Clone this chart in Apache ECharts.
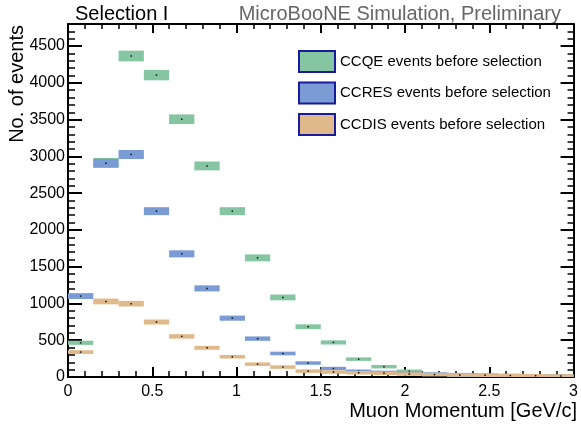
<!DOCTYPE html>
<html><head><meta charset="utf-8">
<script src="https://cdn.jsdelivr.net/npm/echarts@6/dist/echarts.min.js"></script>
<style>html,body{margin:0;padding:0;background:#fff}#c{width:581px;height:429px}</style>
</head><body><div id="c"></div>
<script>
// Bin edges of muon momentum [GeV/c]
const binEdges = [0, 0.15, 0.3, 0.45, 0.6, 0.75, 0.9, 1.05, 1.2, 1.35, 1.5, 1.65, 1.8, 1.95, 2.1, 2.25, 2.4, 2.55, 2.7, 2.85, 3.0];
// Event counts per bin
const ccqe  = [465, 2918, 4365, 4105, 3505, 2870, 2255, 1620, 1082, 683, 470, 243, 140, 78, 35, 22, 15, 10, 8, 6];
const ccres = [1100, 2905, 3025, 2255, 1675, 1205, 800, 522, 320, 190, 115, 78, 62, 50, 40, 32, 26, 20, 16, 14];
const ccdis = [339, 1027, 997, 748, 552, 397, 275, 175, 135, 80, 68, 58, 50, 40, 33, 28, 24, 20, 17, 14];
const seriesNames = ['CCQE events before selection', 'CCRES events before selection', 'CCDIS events before selection'];
const xTicks = [0, 0.5, 1, 1.5, 2, 2.5, 3];

const FONT = 'Liberation Sans, Arial, Helvetica, sans-serif';
const colors = ['#86c5a2', '#7a9bd3', '#e0b98a'];

const chart = echarts.init(document.getElementById('c'), null, {renderer: 'canvas'});

function boxSeries(name, vals, color) {
  return {
    name: name,
    type: 'custom',
    xAxisIndex: 0, yAxisIndex: 0,
    itemStyle: {color: color},
    data: vals.map((v, i) => [binEdges[i], binEdges[i + 1], v]),
    encode: {x: [0, 1], y: 2},
    renderItem: function (params, api) {
      const lo = api.value(0), hi = api.value(1), v = api.value(2);
      const e = Math.sqrt(v);
      const p1 = api.coord([lo, v + e]);
      const p2 = api.coord([hi, v - e]);
      const c = api.coord([(lo + hi) / 2, v]);
      const h = Math.max(p2[1] - p1[1] + 1, 3.5);
      return {
        type: 'group',
        children: [
          {type: 'rect', shape: {x: p1[0], y: c[1] - h / 2, width: p2[0] - p1[0], height: h}, style: {fill: color}},
          {type: 'rect', shape: {x: c[0] - 0.75, y: c[1] - 0.75, width: 1.5, height: 1.5}, style: {fill: '#111'}}
        ]
      };
    },
    clip: true
  };
}

const axisCommon = {
  axisLine: {show: true, onZero: false, lineStyle: {color: '#000', width: 2}},
  splitLine: {show: false}
};

chart.setOption({
  animation: false,
  grid: {left: 68, right: 3, top: 24, bottom: 52},
  legend: {
    orient: 'vertical', left: 293, top: 45,
    itemWidth: 36, itemHeight: 21, itemGap: 8.5,
    icon: 'rect',
    itemStyle: {borderColor: '#1a1a9c', borderWidth: 2},
    textStyle: {fontSize: 15, color: '#000', fontFamily: FONT},
    data: seriesNames
  },
  xAxis: [
    Object.assign({}, axisCommon, {
      type: 'value', min: xTicks[0], max: xTicks[xTicks.length - 1], interval: 0.5, position: 'bottom',
      axisTick: {show: true, inside: true, length: 10, lineStyle: {color: '#000', width: 2}},
      minorTick: {show: true, splitNumber: 5, length: 6, lineStyle: {color: '#000', width: 1.5}},
      axisLabel: {fontSize: 16, color: '#000', margin: 7, fontFamily: FONT, formatter: v => String(v)}
    }),
    Object.assign({}, axisCommon, {
      type: 'value', min: xTicks[0], max: xTicks[xTicks.length - 1], interval: 0.5, position: 'top',
      axisTick: {show: true, inside: true, length: 9, lineStyle: {color: '#000', width: 2}},
      minorTick: {show: true, splitNumber: 5, length: 5, lineStyle: {color: '#000', width: 1.5}},
      axisLabel: {show: false}
    })
  ],
  yAxis: [
    Object.assign({}, axisCommon, {
      type: 'value', min: 0, max: 4800, interval: 500, position: 'left',
      axisTick: {show: true, inside: true, length: 14, lineStyle: {color: '#000', width: 2}},
      minorTick: {show: true, splitNumber: 5, length: 7, lineStyle: {color: '#000', width: 1.5}},
      axisLabel: {fontSize: 16, color: '#000', margin: 3, fontFamily: FONT, showMaxLabel: false, formatter: v => String(v)}
    }),
    Object.assign({}, axisCommon, {
      type: 'value', min: 0, max: 4800, interval: 500, position: 'right',
      axisTick: {show: true, inside: true, length: 13, lineStyle: {color: '#000', width: 2}},
      minorTick: {show: true, splitNumber: 5, length: 6, lineStyle: {color: '#000', width: 1.5}},
      axisLabel: {show: false}
    })
  ],
  series: [
    boxSeries(seriesNames[0], ccqe, colors[0]),
    boxSeries(seriesNames[1], ccres, colors[1]),
    boxSeries(seriesNames[2], ccdis, colors[2])
  ],
  graphic: [
    {type: 'text', x: 75, y: 14, style: {text: 'Selection I', font: '20px ' + FONT, fill: '#000', align: 'left', verticalAlign: 'middle'}},
    {type: 'text', x: 561, y: 14, style: {text: 'MicroBooNE Simulation, Preliminary', font: '20px ' + FONT, fill: '#666', align: 'right', verticalAlign: 'middle'}},
    {type: 'text', x: 577, y: 411, style: {text: 'Muon Momentum [GeV/c]', font: '20px ' + FONT, fill: '#000', align: 'right', verticalAlign: 'middle'}},
    {type: 'text', x: 17, y: 25, rotation: Math.PI / 2, style: {text: 'No. of events', font: '20px ' + FONT, fill: '#000', align: 'right', verticalAlign: 'middle'}}
  ]
});
</script>
</body></html>
